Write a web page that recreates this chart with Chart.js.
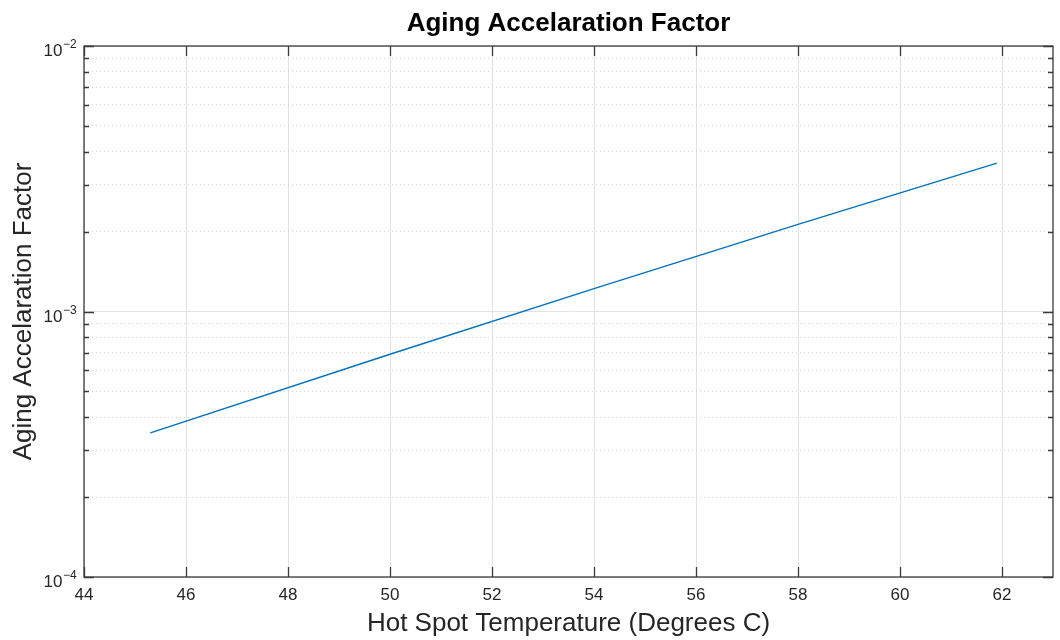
<!DOCTYPE html>
<html>
<head>
<meta charset="utf-8">
<title>Aging Accelaration Factor</title>
<script src="https://cdn.jsdelivr.net/npm/chart.js@4/dist/chart.umd.min.js"></script>
<style>
  html, body { margin: 0; padding: 0; background: #fff; }
  canvas { display: block; }
</style>
</head>
<body>
<canvas id="grafico" width="1060" height="640"></canvas>
<script>
const temperaturas = [45.3, 50, 54, 58, 61.9];
const fatores = [3.49e-4, 6.9e-4, 1.22e-3, 2.13e-3, 3.62e-3];

const ticksX = [44, 46, 48, 50, 52, 54, 56, 58, 60, 62];
const decadasY = [1e-4, 1e-3, 1e-2];
const expoentesY = ["\u22124", "\u22123", "\u22122"];

const titulo = "Aging Accelaration Factor";
const tituloX = "Hot Spot Temperature (Degrees C)";
const tituloY = "Aging Accelaration Factor";

const FONTE = "'Liberation Sans', Arial, Helvetica, sans-serif";
const COR_EIXO = "#3a3a3a";
const COR_TEXTO = "#262626";

// ticks do eixo log: decadas + intermediarios 2..9
function ticksLog() {
    const lista = [];
    decadasY.forEach((d, i) => {
        lista.push({ value: d, major: true });
        if (i < decadasY.length - 1) {
            for (let m = 2; m <= 9; m++) lista.push({ value: d * m, major: false });
        }
    });
    return lista;
}

function ehDecada(v) {
    return decadasY.some(d => Math.abs(d - v) / d < 1e-9);
}

// caixa, marcas internas e textos no estilo matlab
const moldura = {
    id: "moldura",
    afterDraw(chart) {
        const { ctx, chartArea: a, scales } = chart;
        const sx = scales.x, sy = scales.y;

        ctx.save();
        ctx.strokeStyle = COR_EIXO;
        ctx.lineWidth = 1.3;
        ctx.strokeRect(a.left, a.top, a.right - a.left, a.bottom - a.top);

        ctx.beginPath();
        ticksX.forEach(v => {
            const px = Math.round(sx.getPixelForValue(v)) + 0.5;
            ctx.moveTo(px, a.bottom); ctx.lineTo(px, a.bottom - 10);
            ctx.moveTo(px, a.top); ctx.lineTo(px, a.top + 10);
        });
        ticksLog().forEach(t => {
            const py = Math.round(sy.getPixelForValue(t.value)) + 0.5;
            const len = t.major ? 10 : 5;
            ctx.moveTo(a.left, py); ctx.lineTo(a.left + len, py);
            ctx.moveTo(a.right, py); ctx.lineTo(a.right - len, py);
        });
        ctx.stroke();

        // titulo
        ctx.fillStyle = "#000";
        ctx.textAlign = "center";
        ctx.textBaseline = "alphabetic";
        ctx.font = "bold 26px " + FONTE;
        ctx.fillText(titulo, (a.left + a.right) / 2, 31);

        // rotulos do eixo x
        ctx.fillStyle = COR_TEXTO;
        ctx.font = "17px " + FONTE;
        ticksX.forEach(v => {
            ctx.fillText(String(v), sx.getPixelForValue(v), a.bottom + 23);
        });

        // rotulos do eixo y (10 com expoente)
        decadasY.forEach((d, i) => {
            const py = sy.getPixelForValue(d);
            ctx.font = "17px " + FONTE;
            ctx.textAlign = "right";
            ctx.fillText("10", a.left - 21.5, py + 10);
            ctx.font = "12px " + FONTE;
            ctx.textAlign = "left";
            ctx.fillText(expoentesY[i], a.left - 21, py + 2);
        });

        // titulos dos eixos
        ctx.font = "26px " + FONTE;
        ctx.textAlign = "center";
        ctx.fillText(tituloX, (a.left + a.right) / 2, 631);

        ctx.translate(31, (a.top + a.bottom) / 2);
        ctx.rotate(-Math.PI / 2);
        ctx.fillText(tituloY, 0, 0);
        ctx.restore();
    }
};

new Chart(document.getElementById("grafico"), {
    type: "line",
    data: {
        datasets: [{
            data: temperaturas.map((t, i) => ({ x: t, y: fatores[i] })),
            borderColor: "#0072BD",
            borderWidth: 1.4,
            pointRadius: 0,
            tension: 0,
            fill: false
        }]
    },
    options: {
        responsive: false,
        animation: false,
        layout: { padding: { left: 84, right: 7, top: 46, bottom: 63 } },
        plugins: {
            legend: { display: false },
            tooltip: { enabled: false }
        },
        scales: {
            x: {
                type: "linear",
                min: 44,
                max: 63,
                afterBuildTicks: s => { s.ticks = ticksX.map(v => ({ value: v })); },
                ticks: { display: false },
                grid: { color: "#e2e2e2", lineWidth: 1, drawTicks: false },
                border: { display: false }
            },
            y: {
                type: "logarithmic",
                min: 1e-4,
                max: 1e-2,
                afterBuildTicks: s => { s.ticks = ticksLog(); },
                ticks: { display: false, autoSkip: false },
                grid: {
                    drawTicks: false,
                    lineWidth: 1,
                    color: c => ehDecada(c.tick.value) ? "#e2e2e2" : "#d4d4d4"
                },
                border: {
                    display: false,
                    dash: c => ehDecada(c.tick.value) ? [] : [1, 3]
                }
            }
        }
    },
    plugins: [moldura]
});
</script>
</body>
</html>
